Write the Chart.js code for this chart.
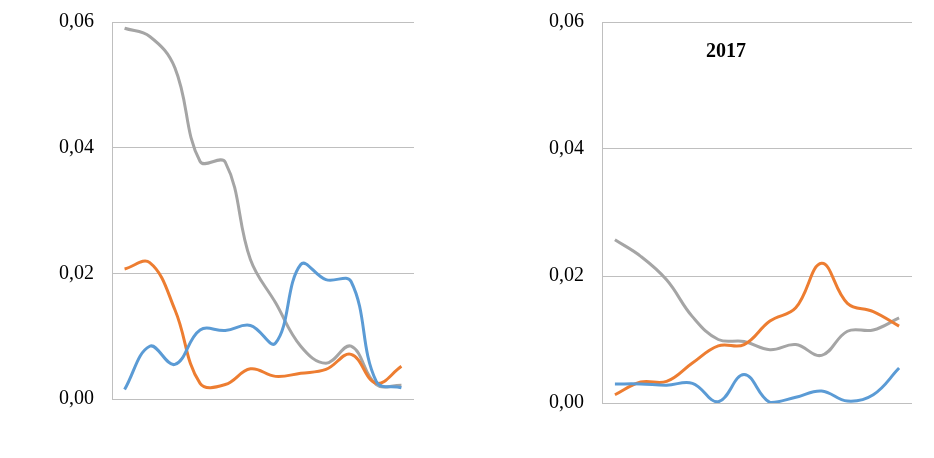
<!DOCTYPE html>
<html>
<head>
<meta charset="utf-8">
<script src="https://cdn.jsdelivr.net/npm/chart.js@4/dist/chart.umd.min.js"></script>
<style>
  body { margin: 0; background: #fff; }
  .box { position: absolute; top: 0; height: 458px; }
</style>
</head>
<body>
<div class="box" style="left:0;width:430px"><canvas id="myChart"></canvas></div>
<div class="box" style="left:490px;width:440px"><canvas id="myChart2"></canvas></div>
<script>
// 12 unnamed points on each chart
var labels = ['1','2','3','4','5','6','7','8','9','10','11','12'];
var yTicks = [0, 0.02, 0.04, 0.06];

// left chart
var blueA   = [0.0015, 0.0084, 0.0055, 0.0110, 0.0109, 0.0117, 0.0089, 0.0214, 0.0190, 0.0187, 0.0028, 0.0018];
var orangeA = [0.0207, 0.0217, 0.0142, 0.0025, 0.0023, 0.0048, 0.0036, 0.0041, 0.0047, 0.0071, 0.0025, 0.0052];
var greyA   = [0.0590, 0.0577, 0.0527, 0.0378, 0.0377, 0.0222, 0.0153, 0.0084, 0.0057, 0.0084, 0.0023, 0.0022];

// right chart (2017)
var blueB   = [0.0030, 0.0030, 0.0028, 0.0031, 0.0002, 0.0045, 0.0001, 0.0009, 0.0019, 0.0003, 0.0013, 0.0055];
var orangeB = [0.0013, 0.0033, 0.0034, 0.0063, 0.0090, 0.0092, 0.0129, 0.0150, 0.0220, 0.0157, 0.0144, 0.0121];
var greyB   = [0.0257, 0.0231, 0.0194, 0.0136, 0.0100, 0.0097, 0.0084, 0.0092, 0.0075, 0.0113, 0.0115, 0.0134];

var gridColor = '#bfbfbf';

function ds(data, color) {
    return { data: data, borderColor: color, borderWidth: 3, pointRadius: 0, tension: 0.4, fill: false };
}

// inner title drawn inside the plot area
var innerTitle = {
    id: 'innerTitle',
    afterDraw: function(chart) {
        var t = chart.options.plugins.innerTitle;
        if (!t || !t.text) return;
        var a = chart.chartArea, c = chart.ctx;
        c.save();
        c.font = 'bold 20px "Liberation Serif"';
        c.fillStyle = '#000';
        c.textAlign = 'center';
        c.textBaseline = 'middle';
        c.fillText(t.text, a.left + (a.right - a.left) * 0.4, a.top + 30);
        c.restore();
    }
};

function makeChart(id, series, title, pad) {
    var ctx = document.getElementById(id).getContext('2d');
    return new Chart(ctx, {
        type: 'line',
        data: {
            labels: labels,
            datasets: [ds(series[0], '#5b9bd5'), ds(series[1], '#ed7d31'), ds(series[2], '#a5a5a5')]
        },
        plugins: [innerTitle],
        options: {
            responsive: true,
            maintainAspectRatio: false,
            animation: false,
            layout: { padding: pad },
            plugins: { legend: { display: false }, tooltip: { enabled: false }, innerTitle: { text: title } },
            scales: {
                x: { display: false, offset: true },
                y: {
                    min: 0, max: 0.06,
                    afterBuildTicks: function(s) { s.ticks = yTicks.map(function(v) { return { value: v }; }); },
                    afterFit: function(s) { s.width = 112; s.paddingTop = 0; s.paddingBottom = 0; },
                    grid: { color: gridColor, drawTicks: false },
                    border: { color: gridColor },
                    ticks: {
                        padding: 18,
                        color: '#000',
                        font: { family: '"Liberation Serif"', size: 20 },
                        callback: function(v) { return v.toFixed(2).replace('.', ','); }
                    }
                }
            }
        }
    });
}

makeChart('myChart', [blueA, orangeA, greyA], '', { left: 0, top: 22, right: 16, bottom: 59 });
makeChart('myChart2', [blueB, orangeB, greyB], '2017', { left: 0, top: 22, right: 18, bottom: 55 });
</script>
</body>
</html>
